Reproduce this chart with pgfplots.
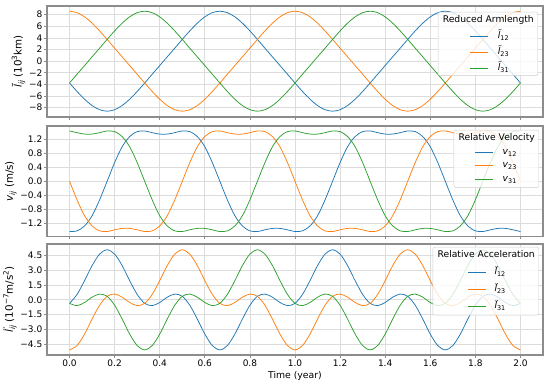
\documentclass[border=0pt]{standalone}
\usepackage{fontspec}
\setmainfont{DejaVu Sans}
\usepackage{pgfplots}
\pgfplotsset{compat=1.18}
\usepackage{pgfplotstable}
\definecolor{c1}{HTML}{1F77B4}
\definecolor{c2}{HTML}{FF7F0E}
\definecolor{c3}{HTML}{2CA02C}
\definecolor{spine}{HTML}{8C8C8C}
\definecolor{gridc}{HTML}{DCDCDC}
\definecolor{legc}{HTML}{CCCCCC}
\newcommand{\mysub}[2][6.4]{\raisebox{-0.22em}{\fontsize{#1}{#1}\selectfont #2}}
\newcommand{\mysup}[2][7.2]{\raisebox{0.42em}{\fontsize{#1}{#1}\selectfont #2}}

\pgfplotstableread{
t l12 l23 l31 v12 v23 v31 a12 a23 a31
0.0000 -3.75 8.60 -3.75 -1.43 0 1.43 -0.36 -5.10 -0.36
0.0333 -5.21 8.35 -2.24 -1.41 -0.53 1.38 0.55 -4.66 -0.59
0.0667 -6.54 7.63 -0.75 -1.27 -0.98 1.34 1.96 -3.49 -0.27
0.1000 -7.63 6.54 0.75 -0.98 -1.27 1.34 3.49 -1.96 0.27
0.1333 -8.35 5.21 2.24 -0.53 -1.41 1.38 4.66 -0.55 0.59
0.1667 -8.60 3.75 3.75 0 -1.43 1.43 5.10 0.36 0.36
0.2000 -8.35 2.24 5.21 0.53 -1.38 1.41 4.66 0.59 -0.55
0.2333 -7.63 0.75 6.54 0.98 -1.34 1.27 3.49 0.27 -1.96
0.2667 -6.54 -0.75 7.63 1.27 -1.34 0.98 1.96 -0.27 -3.49
0.3000 -5.21 -2.24 8.35 1.41 -1.38 0.53 0.55 -0.59 -4.66
0.3333 -3.75 -3.75 8.60 1.43 -1.43 0 -0.36 -0.36 -5.10
0.3667 -2.24 -5.21 8.35 1.38 -1.41 -0.53 -0.59 0.55 -4.66
0.4000 -0.75 -6.54 7.63 1.34 -1.27 -0.98 -0.27 1.96 -3.49
0.4333 0.75 -7.63 6.54 1.34 -0.98 -1.27 0.27 3.49 -1.96
0.4667 2.24 -8.35 5.21 1.38 -0.53 -1.41 0.59 4.66 -0.55
0.5000 3.75 -8.60 3.75 1.43 0 -1.43 0.36 5.10 0.36
0.5333 5.21 -8.35 2.24 1.41 0.53 -1.38 -0.55 4.66 0.59
0.5667 6.54 -7.63 0.75 1.27 0.98 -1.34 -1.96 3.49 0.27
0.6000 7.63 -6.54 -0.75 0.98 1.27 -1.34 -3.49 1.96 -0.27
0.6333 8.35 -5.21 -2.24 0.53 1.41 -1.38 -4.66 0.55 -0.59
0.6667 8.60 -3.75 -3.75 0 1.43 -1.43 -5.10 -0.36 -0.36
0.7000 8.35 -2.24 -5.21 -0.53 1.38 -1.41 -4.66 -0.59 0.55
0.7333 7.63 -0.75 -6.54 -0.98 1.34 -1.27 -3.49 -0.27 1.96
0.7667 6.54 0.75 -7.63 -1.27 1.34 -0.98 -1.96 0.27 3.49
0.8000 5.21 2.24 -8.35 -1.41 1.38 -0.53 -0.55 0.59 4.66
0.8333 3.75 3.75 -8.60 -1.43 1.43 0 0.36 0.36 5.10
0.8667 2.24 5.21 -8.35 -1.38 1.41 0.53 0.59 -0.55 4.66
0.9000 0.75 6.54 -7.63 -1.34 1.27 0.98 0.27 -1.96 3.49
0.9333 -0.75 7.63 -6.54 -1.34 0.98 1.27 -0.27 -3.49 1.96
0.9667 -2.24 8.35 -5.21 -1.38 0.53 1.41 -0.59 -4.66 0.55
1.0000 -3.75 8.60 -3.75 -1.43 0 1.43 -0.36 -5.10 -0.36
1.0333 -5.21 8.35 -2.24 -1.41 -0.53 1.38 0.55 -4.66 -0.59
1.0667 -6.54 7.63 -0.75 -1.27 -0.98 1.34 1.96 -3.49 -0.27
1.1000 -7.63 6.54 0.75 -0.98 -1.27 1.34 3.49 -1.96 0.27
1.1333 -8.35 5.21 2.24 -0.53 -1.41 1.38 4.66 -0.55 0.59
1.1667 -8.60 3.75 3.75 0 -1.43 1.43 5.10 0.36 0.36
1.2000 -8.35 2.24 5.21 0.53 -1.38 1.41 4.66 0.59 -0.55
1.2333 -7.63 0.75 6.54 0.98 -1.34 1.27 3.49 0.27 -1.96
1.2667 -6.54 -0.75 7.63 1.27 -1.34 0.98 1.96 -0.27 -3.49
1.3000 -5.21 -2.24 8.35 1.41 -1.38 0.53 0.55 -0.59 -4.66
1.3333 -3.75 -3.75 8.60 1.43 -1.43 0 -0.36 -0.36 -5.10
1.3667 -2.24 -5.21 8.35 1.38 -1.41 -0.53 -0.59 0.55 -4.66
1.4000 -0.75 -6.54 7.63 1.34 -1.27 -0.98 -0.27 1.96 -3.49
1.4333 0.75 -7.63 6.54 1.34 -0.98 -1.27 0.27 3.49 -1.96
1.4667 2.24 -8.35 5.21 1.38 -0.53 -1.41 0.59 4.66 -0.55
1.5000 3.75 -8.60 3.75 1.43 0 -1.43 0.36 5.10 0.36
1.5333 5.21 -8.35 2.24 1.41 0.53 -1.38 -0.55 4.66 0.59
1.5667 6.54 -7.63 0.75 1.27 0.98 -1.34 -1.96 3.49 0.27
1.6000 7.63 -6.54 -0.75 0.98 1.27 -1.34 -3.49 1.96 -0.27
1.6333 8.35 -5.21 -2.24 0.53 1.41 -1.38 -4.66 0.55 -0.59
1.6667 8.60 -3.75 -3.75 0 1.43 -1.43 -5.10 -0.36 -0.36
1.7000 8.35 -2.24 -5.21 -0.53 1.38 -1.41 -4.66 -0.59 0.55
1.7333 7.63 -0.75 -6.54 -0.98 1.34 -1.27 -3.49 -0.27 1.96
1.7667 6.54 0.75 -7.63 -1.27 1.34 -0.98 -1.96 0.27 3.49
1.8000 5.21 2.24 -8.35 -1.41 1.38 -0.53 -0.55 0.59 4.66
1.8333 3.75 3.75 -8.60 -1.43 1.43 0 0.36 0.36 5.10
1.8667 2.24 5.21 -8.35 -1.38 1.41 0.53 0.59 -0.55 4.66
1.9000 0.75 6.54 -7.63 -1.34 1.27 0.98 0.27 -1.96 3.49
1.9333 -0.75 7.63 -6.54 -1.34 0.98 1.27 -0.27 -3.49 1.96
1.9667 -2.24 8.35 -5.21 -1.38 0.53 1.41 -0.59 -4.66 0.55
2.0000 -3.75 8.60 -3.75 -1.43 0 1.43 -0.36 -5.10 -0.36
}\data

\pgfplotsset{
  panel/.style={
    scale only axis, width=496pt,
    xmin=-0.1, xmax=2.1,
    xtick={0,0.2,0.4,0.6,0.8,1.0,1.2,1.4,1.6,1.8,2.0},
    xtick pos=lower, ytick pos=left,
    axis line style={spine, line width=1.1pt},
    tick style={spine, line width=0.8pt},
    tick align=outside, major tick length=3pt,
    grid=major, major grid style={gridc, line width=0.7pt},
    ticklabel style={font=\fontsize{9}{10}\selectfont, inner sep=1.5pt},
    ylabel style={font=\fontsize{10.3}{12}\selectfont, inner sep=2pt},
    xlabel style={font=\fontsize{9.3}{10}\selectfont},
    every axis plot/.append style={line width=0.75pt, smooth, no markers},
    legend style={at={(1,1)}, anchor=north east, fill=white, fill opacity=0.8, text opacity=1,
      draw=legc, draw opacity=1, rounded corners=2pt, inner xsep=4pt,
      font=\fontsize{9.2}{10}\selectfont, cells={anchor=west},
      nodes={inner sep=0pt, text height=7pt, text depth=2.5pt}},
  }
}

\begin{document}
\begin{tikzpicture}
\useasboundingbox (0,0) rectangle (550pt,382pt);
% Panel 1
\begin{axis}[panel, at={(47pt,265pt)}, height=111pt,
  ymin=-9.6, ymax=9.5,
  ytick={-8,-6,-4,-2,0,2,4,6,8},
  yticklabels={−8,−6,−4,−2,0,2,4,6,8},
  xticklabels={},
  ylabel={\textit{\~{l}}\mysub[7.2]{\textit{ij}} (10\mysup{3}km)},
  legend style={xshift=-5pt, yshift=-6pt, inner ysep=3pt, column sep=9pt, row sep=6.5pt},
  legend image code/.code={\path (0pt,0pt); \draw[#1] (28pt,0pt) -- (46pt,0pt);},
]
\addlegendimage{empty legend}
\addlegendentry{\hspace{-55pt}Reduced Armlength}
\addplot[c1] table[x=t, y=l12] {\data};
\addlegendentry{\textit{\~{l}}\mysub{12}}
\addplot[c2] table[x=t, y=l23] {\data};
\addlegendentry{\textit{\~{l}}\mysub{23}}
\addplot[c3] table[x=t, y=l31] {\data};
\addlegendentry{\textit{\~{l}}\mysub{31}}
\end{axis}
% Panel 2
\begin{axis}[panel, at={(47pt,145.5pt)}, height=110.5pt,
  ymin=-1.57, ymax=1.57,
  ytick={-1.2,-0.8,-0.4,0,0.4,0.8,1.2},
  yticklabels={−1.2,−0.8,−0.4,0.0,0.4,0.8,1.2},
  xticklabels={},
  ylabel={\textit{v}\mysub[7.2]{\textit{ij}} (m/s)},
  legend style={xshift=-4pt, yshift=-4pt, inner ysep=3.7pt, column sep=9pt, row sep=4pt},
  legend image code/.code={\path (0pt,0pt); \draw[#1] (17pt,0pt) -- (35pt,0pt);},
]
\addlegendimage{empty legend}
\addlegendentry{\hspace{-44pt}Relative Velocity}
\addplot[c1] table[x=t, y=v12] {\data};
\addlegendentry{\textit{v}\mysub{12}}
\addplot[c2] table[x=t, y=v23] {\data};
\addlegendentry{\textit{v}\mysub{23}}
\addplot[c3] table[x=t, y=v31] {\data};
\addlegendentry{\textit{v}\mysub{31}}
\end{axis}
% Panel 3
\begin{axis}[panel, at={(47pt,27pt)}, height=111pt,
  ymin=-5.62, ymax=5.69,
  ytick={-4.5,-3,-1.5,0,1.5,3,4.5},
  yticklabels={−4.5,−3.0,−1.5,0.0,1.5,3.0,4.5},
  xticklabels={0.0,0.2,0.4,0.6,0.8,1.0,1.2,1.4,1.6,1.8,2.0},
  xlabel={Time (year)},
  ylabel={\textit{\"{l}}\mysub[7.2]{\textit{ij}} (10\mysup{−7}m/s\mysup{2})},
  legend style={xshift=-4pt, yshift=-3pt, inner ysep=3.7pt, column sep=8pt, row sep=7.5pt},
  legend image code/.code={\path (0pt,0pt); \draw[#1] (31pt,0pt) -- (49pt,0pt);},
]
\addlegendimage{empty legend}
\addlegendentry{\hspace{-57pt}Relative Acceleration}
\addplot[c1] table[x=t, y=a12] {\data};
\addlegendentry{\textit{\"{l}}\mysub{12}}
\addplot[c2] table[x=t, y=a23] {\data};
\addlegendentry{\textit{\"{l}}\mysub{23}}
\addplot[c3] table[x=t, y=a31] {\data};
\addlegendentry{\textit{\"{l}}\mysub{31}}
\end{axis}
\end{tikzpicture}
\end{document}
